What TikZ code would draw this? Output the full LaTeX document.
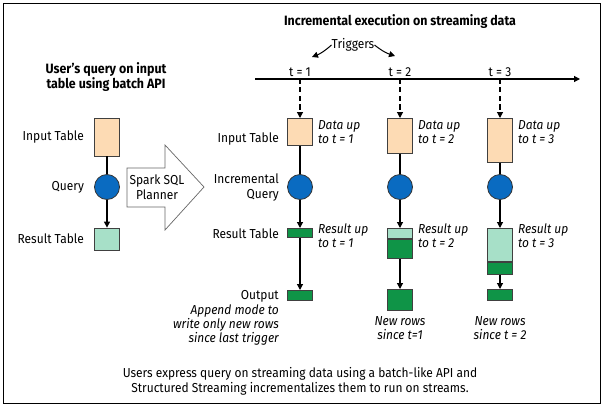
\documentclass[tikz,border=0pt]{standalone}
\usepackage{fontspec}
\setmainfont{Fira Sans}[FakeStretch=0.92]
\usepackage{tkz-euclide}
\usetikzlibrary{arrows.meta,positioning}
\definecolor{peach}{HTML}{FDDBB4}
\definecolor{qblue}{HTML}{0A6BC1}
\definecolor{dgreen}{HTML}{0F9447}
\definecolor{lgreen}{HTML}{A7E0C8}
\begin{document}
\begin{tikzpicture}[x=1pt,y=-1pt,
    lbl/.style={inner sep=0pt,font=\fontsize{13}{15}\selectfont},
    note/.style={inner sep=0pt,font=\fontsize{13}{14}\selectfont\itshape},
    head/.style={inner sep=0pt,font=\fontsize{13.5}{12.5}\selectfont\bfseries},
    link/.style={line width=1.2pt},
    tip/.style={-{Triangle[length=6pt,width=6pt]}},
    intbl/.style={draw=black!75,fill=peach,line width=.8pt,minimum width=25pt,inner sep=0pt},
    restbl/.style={draw=black!75,line width=.8pt,minimum width=25pt,inner sep=0pt},
    qry/.style={circle,draw=black!80,fill=qblue,line width=.8pt,minimum size=25pt,inner sep=0pt},
    planner/.style={draw=black!60,fill=white,line width=.7pt}]
    \useasboundingbox (0,0) rectangle (604,409);
    \draw[line width=1pt] (3,4) rectangle (600,403);
    \node[head] (ttlstream) at (400,22) {Incremental execution on streaming data};
    \node[head,align=center] (ttlbatch) at (106,77) {User's query on input\\table using batch API};
    % batch query
    \node[intbl,minimum height=38] (in0) at (107,137) {};
    \node[qry] (q0) at (107,187) {};
    \node[restbl,fill=lgreen,minimum height=22] (r0) at (107,239) {};
    \node[lbl,left=10pt of in0] (lin0) {Input Table};
    \node[lbl,left=10pt of q0] (lq0) {Query};
    \node[lbl,left=10pt of r0] (lr0) {Result Table};
    \draw[link] (in0) -- (q0);
    \draw[link,tip] (q0) -- (r0);
    % planner arrow
    \draw[planner] (127,168) -- (165,168) -- (165,145) -- (204,187)
        -- (165,230) -- (165,207) -- (127,207) -- cycle;
    \node[lbl,align=center] (plan) at (157,187) {Spark SQL\\Planner};
    % timeline and triggers
    \tkzDefPoints{255/79/S,580/79/E,300/79/T1,400/79/T2,500/79/T3}
    \draw[link,tip] (S) -- (E);
    \node[lbl] (trig) at (353,45) {Triggers};
    \coordinate (tg1) at (312,57);
    \coordinate (tg2) at (395,56);
    \draw[line width=1pt,tip] (trig.west) to[bend left=10] (tg1);
    \draw[line width=1pt,tip] (trig.east) to[bend right=10] (tg2);
    \foreach \i/\x/\h in {1/300/27,2/400/35,3/500/44}{
        \node[lbl,above=2pt] (lt\i) at (T\i) {t = \i};
        \node[intbl,minimum height=\h,anchor=north] (in\i) at (\x,118) {};
        \node[qry] (q\i) at (\x,187) {};
        \draw[link,dash pattern=on 5pt off 3.5pt,tip] (T\i) -- (in\i);
        \draw[link] (in\i) -- (q\i);
        \node[note,align=left,anchor=north west] (din\i) at ([xshift=5pt,yshift=-2pt]in\i.north east) {Data up\\to t = \i};
    }
    % result tables
    \node[restbl,fill=dgreen,minimum height=9,anchor=north] (r1) at (300,228) {};
    \node[restbl,fill=lgreen,minimum height=10,anchor=north] (r2a) at (400,228) {};
    \node[restbl,fill=dgreen,minimum height=19,anchor=north] (r2b) at (r2a.south) {};
    \node[restbl,fill=lgreen,minimum height=33,anchor=north] (r3a) at (500,228) {};
    \node[restbl,fill=dgreen,minimum height=12,anchor=north] (r3b) at (r3a.south) {};
    \node[restbl,fill=dgreen,minimum height=10,anchor=north] (o1) at (300,290) {};
    \node[restbl,fill=dgreen,minimum height=21,anchor=north] (o2) at (400,289) {};
    \node[restbl,fill=dgreen,minimum height=11,anchor=north] (o3) at (500,289) {};
    \draw[link,tip] (q1) -- (r1);
    \draw[link,tip] (r1) -- (o1);
    \draw[link,tip] (q2) -- (r2a);
    \draw[link,tip] (r2b) -- (o2);
    \draw[link,tip] (q3) -- (r3a);
    \draw[link,tip] (r3b) -- (o3);
    \foreach \n/\i in {r1/1,r2a/2,r3a/3}
        \node[note,align=left,anchor=north west] (dr\i) at ([xshift=5pt,yshift=4pt]\n.north east) {Result up\\to t = \i};
    \node[note,align=center,below=6pt of o2] (nr2) {New rows\\since t=1};
    \node[note,align=center] (nr3) at (nr2 -| o3) {New rows\\since t = 2};
    % stream labels
    \node[lbl,anchor=east] (lin1) at (279,139) {Input Table};
    \node[lbl,anchor=east,align=right] (lq1) at (279,188) {Incremental\\Query};
    \node[lbl,anchor=east] (lr1) at (279,234) {Result Table};
    \node[lbl,anchor=east] (lout) at (279,296) {Output};
    \node[note,align=right,anchor=north east] (lapp) at ([yshift=-2pt]lout.south east) {Append mode to\\write only new rows\\since last trigger};
    \node[lbl,align=center] (foot) at (300,381) {Users express query on streaming data using a batch-like API and\\Structured Streaming incrementalizes them to run on streams.};
\end{tikzpicture}
\end{document}
